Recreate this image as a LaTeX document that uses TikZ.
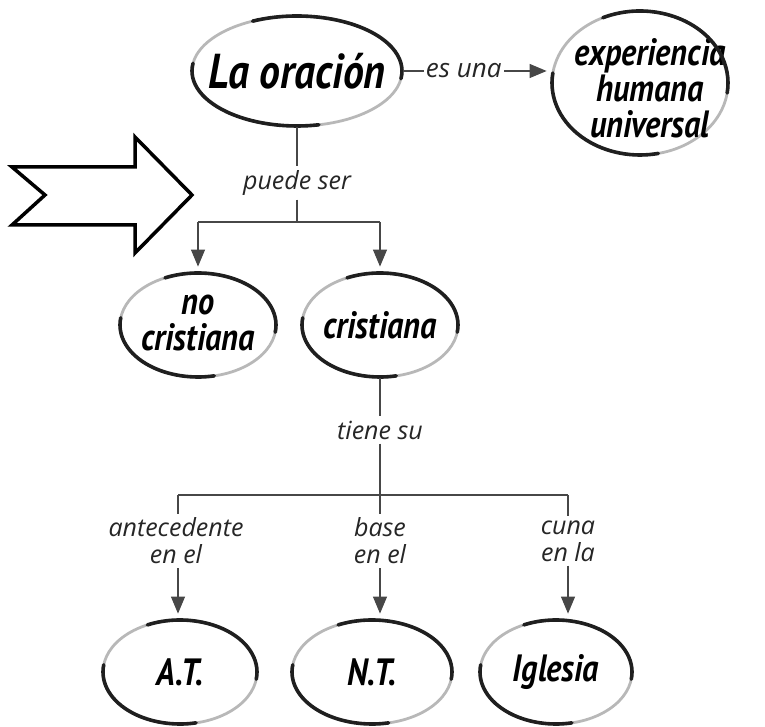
\documentclass[tikz,border=0pt]{standalone}
\usepackage{fontspec}
\setmainfont{PT Sans}
\newfontfamily\boldcond[FakeStretch=0.85]{PT Sans}
\newfontfamily\labfont{Open Sans}
\usetikzlibrary{arrows.meta,shapes.geometric}
\tikzset{
  bubble/.style={ellipse, inner sep=0pt, draw=black!28, line width=2.8pt},
  bubtext/.style={font=\boldcond\bfseries\itshape\fontsize{38}{33}\selectfont, align=center, text=black, inner sep=0pt},
  lab/.style={font=\labfont\itshape\fontsize{25}{27}\selectfont, fill=white, inner sep=4pt, align=center, text=black!85},
  eslab/.style={font=\labfont\itshape\fontsize{26}{26}\selectfont, fill=white, inner sep=2pt, text=black!85},
  conn/.style={draw=black!72, line width=1.1pt},
  arr/.style={conn, -{Triangle[width=14pt,length=17pt]}, shorten >=5pt},
  brushdark/.style={line width=3.6pt, black!88, line cap=round},
  bigarrow/.style={draw=black, line width=3.5pt, line join=miter, fill=white}
}
\newcommand\brushstroke[3]{%
  \draw[brushdark] ([shift={(115:#2pt and #3pt)}]#1.center) arc[start angle=115, end angle=-8, x radius=#2pt, y radius=#3pt];
  \draw[brushdark] ([shift={(172:#2pt and #3pt)}]#1.center) arc[start angle=172, end angle=282, x radius=#2pt, y radius=#3pt];
}
\begin{document}
\begin{tikzpicture}[x=1pt,y=1pt]
\useasboundingbox (0,0) rectangle (765,726);
% nodes
\node[bubble, minimum width=210pt, minimum height=110pt,
  label={[bubtext, font=\boldcond\bfseries\itshape\fontsize{49}{49}\selectfont]center:La oración}] (ora) at (297,655) {};
\node[bubble, minimum width=176pt, minimum height=144pt,
  label={[bubtext, xshift=10pt, yshift=-5pt, font=\boldcond\bfseries\itshape\fontsize{38}{36}\selectfont]center:experiencia\\humana\\universal}] (exp) at (640,643) {};
\node[bubble, minimum width=156pt, minimum height=104pt,
  label={[bubtext, yshift=2pt, font=\boldcond\bfseries\itshape\fontsize{38}{36}\selectfont]center:no\\cristiana}] (nc) at (198,401) {};
\node[bubble, minimum width=156pt, minimum height=104pt, label={[bubtext]center:cristiana}] (cr) at (380,401) {};
\node[bubble, minimum width=154pt, minimum height=104pt, label={[bubtext]center:A.T.}] (at) at (180,54) {};
\node[bubble, minimum width=160pt, minimum height=104pt, label={[bubtext]center:N.T.}] (nt) at (372,54) {};
\node[bubble, minimum width=152pt, minimum height=104pt, label={[bubtext]center:Iglesia}] (ig) at (556,54) {};
\brushstroke{ora}{105}{55}
\brushstroke{exp}{88}{72}
\brushstroke{nc}{78}{52}
\brushstroke{cr}{78}{52}
\brushstroke{at}{77}{52}
\brushstroke{nt}{80}{52}
\brushstroke{ig}{76}{52}
% labels
\node[lab] (ps) at (297,543) {puede ser};
\node[lab] (ts) at (380,296) {tiene su};
\node[lab] (a1) at (176,185) {antecedente\\en el};
\node[lab] (a2) at (380,185) {base\\en el};
\node[lab] (a3) at (568,185) {cuna\\en la};
% junctions
\coordinate (j1) at (297,504);
\coordinate (j1l) at (198,504);
\coordinate (j1r) at (380,504);
\coordinate (j2) at (380,231);
\coordinate (j2l) at (178,231);
\coordinate (j2r) at (568,231);
% connectors
\draw[arr, shorten >=4pt] (ora.east) -- node[eslab, pos=0.41] {es una} (ora.east -| exp.west);
\draw[conn] (ora.south) -- (ps.north);
\draw[conn] (ps.south) -- (j1);
\draw[conn] (j1l) -- (j1r);
\draw[arr] (j1l) -- (nc.north);
\draw[arr] (j1r) -- (cr.north);
\draw[conn] (cr.south) -- (ts.north);
\draw[conn] (ts.south) -- (j2);
\draw[conn] (j2l) -- (j2r);
\draw[conn] (j2l) -- (j2l |- a1.north);
\draw[conn] (j2) -- (a2.north);
\draw[conn] (j2r) -- (a3.north);
\draw[arr] (j2l |- a1.south) -- (j2l |- at.north);
\draw[arr] (a2.south) -- (a2.south |- nt.north);
\draw[arr] (a3.south) -- (a3.south |- ig.north);
% big outline arrow
\draw[bigarrow] (12,559) -- (135,559) -- (135,589) -- (192,531) -- (135,473) -- (135,501) -- (12,501) -- (45,531) -- cycle;
\end{tikzpicture}
\end{document}
